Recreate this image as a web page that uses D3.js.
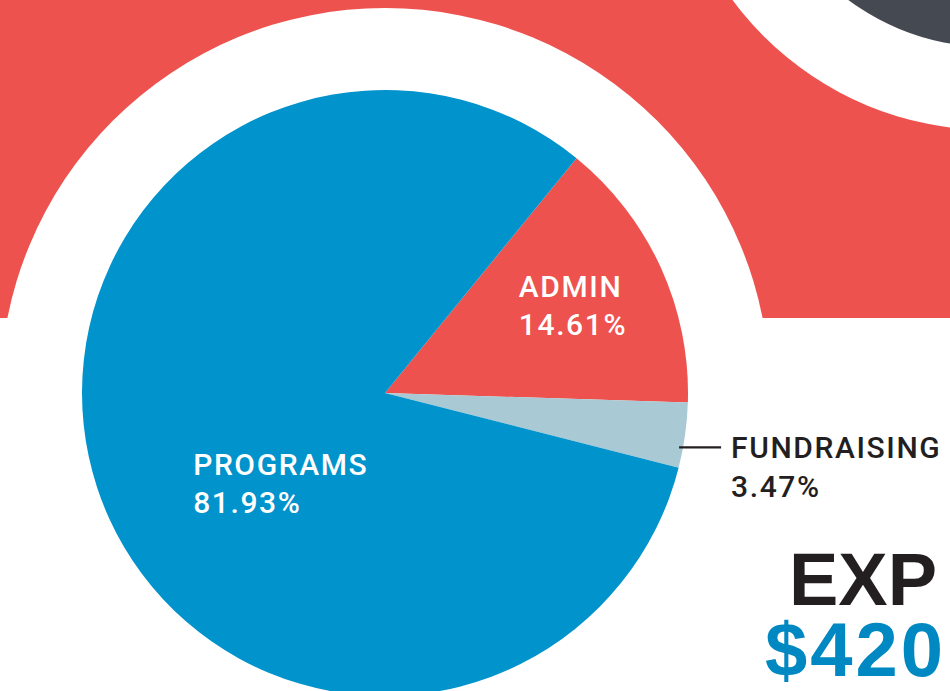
<!DOCTYPE html>
<html><head><meta charset="utf-8">
<script src="https://cdn.jsdelivr.net/npm/d3@7"></script>
<style>
html,body{margin:0;padding:0;background:#fff;overflow:hidden}
svg{display:block}
text{font-family:Roboto,"Noto Sans",sans-serif}
</style></head>
<body>
<script>
const categories = ["ADMIN", "FUNDRAISING", "PROGRAMS"];
const values = [14.61, 3.47, 81.93];
const valueLabels = ["14.61%", "3.47%", "81.93%"];
const titleLines = ["EXP", "$420"];

const W = 950, H = 691;
const cx = 385, cy = 393, R = 303, ringR = 385;
const colors = {ADMIN: "#ed524e", FUNDRAISING: "#a9cad4", PROGRAMS: "#0093cc"};

const svg = d3.select("body").append("svg").attr("width", W).attr("height", H);

// background
svg.append("rect").attr("x", 0).attr("y", 0).attr("width", W).attr("height", 318).attr("fill", "#ed524e");
svg.append("circle").attr("cx", cx).attr("cy", cy).attr("r", ringR).attr("fill", "#fff");
svg.append("circle").attr("cx", 990).attr("cy", -190).attr("r", 320).attr("fill", "#fff");
svg.append("circle").attr("cx", 990).attr("cy", -190).attr("r", 237).attr("fill", "#454a52");

const start = 39.2 * Math.PI / 180;
const pie = d3.pie().sort(null).value(d => d.v).startAngle(start).endAngle(start + 2 * Math.PI);
const data = categories.map((c, i) => ({c, v: values[i], l: valueLabels[i]}));
const arcs = pie(data);
const arc = d3.arc().innerRadius(0).outerRadius(R);

const g = svg.append("g").attr("transform", `translate(${cx},${cy})`);
g.selectAll("path").data(arcs).join("path")
  .attr("d", arc).attr("fill", d => colors[d.data.c]);

// labels
const labelArc = d3.arc().innerRadius(R * 0.5).outerRadius(R * 0.5);
const offsets = {ADMIN: [-4, -33], PROGRAMS: [-48, 35]};
const fs = 30, lh = 38, ls = 1.6;
arcs.forEach(a => {
  if (a.data.c === "FUNDRAISING") {
    const mid = (a.startAngle + a.endAngle) / 2;
    const ly = -R * Math.cos(mid) + 12;
    const lx0 = Math.sqrt(R * R - ly * ly);
    g.append("line").attr("x1", lx0 - 4).attr("x2", lx0 + 38).attr("y1", ly).attr("y2", ly)
      .attr("stroke", "#231f20").attr("stroke-width", 2.2);
    const t = g.append("text").attr("x", lx0 + 48).attr("y", ly + 11)
      .attr("fill", "#231f20").attr("font-size", fs).attr("font-weight", 500).attr("letter-spacing", ls);
    t.append("tspan").text(a.data.c);
    t.append("tspan").attr("x", lx0 + 48).attr("dy", lh + 1).text(a.data.l);
  } else {
    const [x, y] = labelArc.centroid(a);
    const o = offsets[a.data.c];
    const tx = x + o[0], ty = y + o[1];
    const t = g.append("text").attr("fill", "#fff").attr("font-size", fs).attr("font-weight", 500)
      .attr("letter-spacing", ls);
    t.append("tspan").attr("x", tx).attr("y", ty).text(a.data.c);
    t.append("tspan").attr("x", tx).attr("dy", lh).text(a.data.l);
  }
});

// title
svg.append("text").attr("x", 789).attr("y", 605).attr("font-size", 74).attr("font-weight", 700)
  .style("font-family", "'Liberation Sans', Arial, sans-serif")
  .attr("fill", "#231f20").text(titleLines[0]);
svg.append("text").attr("x", 765).attr("y", 676).attr("font-size", 76).attr("font-weight", 700)
  .style("font-family", "'Liberation Sans', Arial, sans-serif").attr("letter-spacing", 3)
  .attr("fill", "#0088c2").text(titleLines[1]);
</script>
</body></html>
